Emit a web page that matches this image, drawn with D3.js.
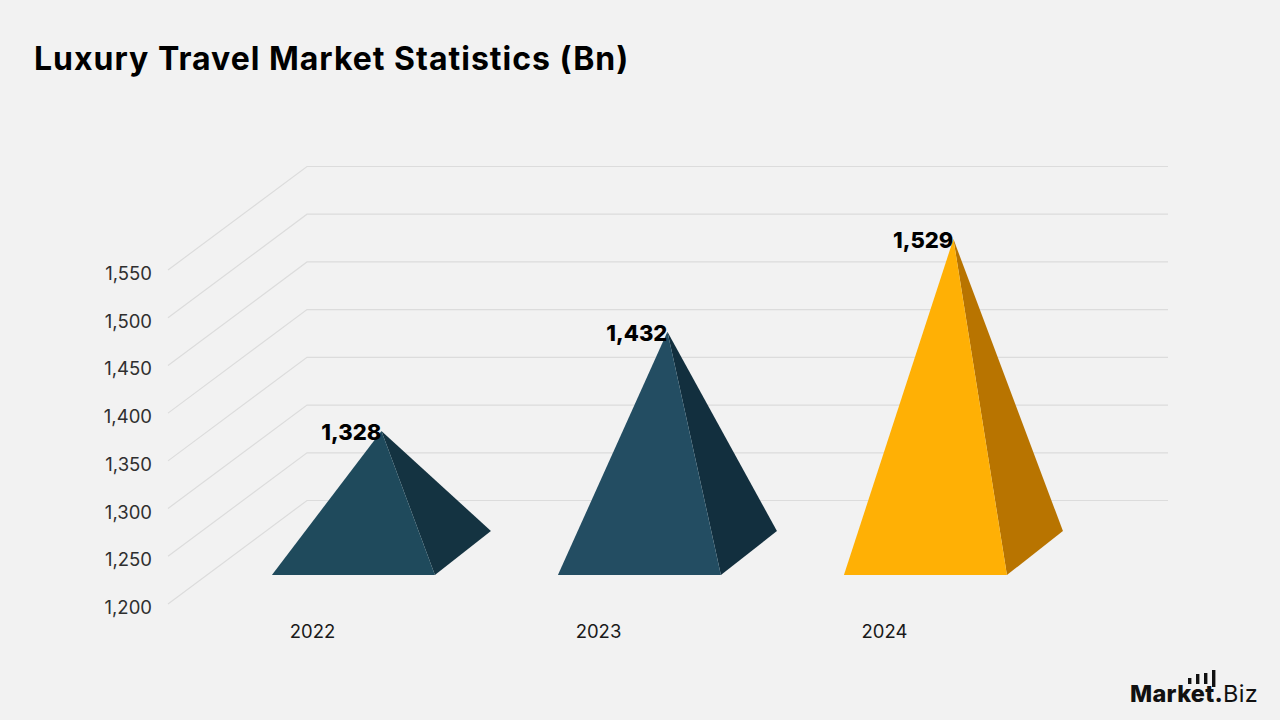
<!DOCTYPE html>
<html>
<head>
<meta charset="utf-8">
<script src="https://cdn.jsdelivr.net/npm/d3@7/dist/d3.min.js"></script>
<style>
  html, body { margin: 0; padding: 0; background: #f2f2f2; }
  svg { display: block; }
  text { font-family: Inter, "Open Sans", sans-serif; }
</style>
</head>
<body>
<svg id="chart" width="1280" height="720"></svg>
<script>
const titleText = "Luxury Travel Market Statistics (Bn)";
const years = ["2022", "2023", "2024"];
const marketValues = [1328, 1432, 1529];
const frontColors = ["#1f4a5c", "#234d62", "#ffb005"];
const sideColors = ["#143341", "#122f3e", "#b87400"];
const tickValues = [1200, 1250, 1300, 1350, 1400, 1450, 1500, 1550];
const logoBars = [6, 10, 11, 17];

const svg = d3.select("#chart");
const fmt = d3.format(",");

// Value axis sits on the front plane; categories are spaced along its width.
const y = d3.scaleLinear().domain([1200, 1550]).range([604, 270]);
const x = d3.scaleBand().domain(years).range([233, 1091]).paddingInner(0).paddingOuter(0);

// Oblique projection: depth 0 is the front plane, depth 1 is the back wall.
const wall = { dx: 139, dy: -103.5 };
const project = (px, py, depth) => [px + wall.dx * depth, py + wall.dy * depth];

// Gridlines: side edge plus back wall
const grid = svg.append("g").attr("fill", "none").attr("stroke", "#dcdcdc").attr("stroke-width", 1.2);
grid.selectAll("path").data(tickValues).join("path")
  .attr("d", v => {
    const a = project(168, y(v), 0), b = project(168, y(v), 1);
    return d3.line()([a, b, [1168, b[1]]]);
  });

// Value axis labels
svg.append("g").selectAll("text").data(tickValues).join("text")
  .attr("x", 152).attr("y", v => y(v) + 5)
  .attr("text-anchor", "end").attr("dominant-baseline", "middle")
  .attr("font-size", 18.5).attr("fill", "#2f2f2f")
  .text(fmt);

// Pyramids: the base recedes along its own edge vector, apex over its centre
const baseWidth = 163, nearDepth = 0.28, midDepth = 0.4925;
const baseEdge = { dx: 56, dy: -44 };
const pyramids = svg.append("g").selectAll("g").data(years).join("g");
pyramids.each(function (yr, i) {
  const g = d3.select(this);
  const left = x(yr);
  const right = left + baseWidth;
  const floor = y(1200);
  const fl = project(left, floor, nearDepth);
  const fr = project(right, floor, nearDepth);
  const br = [fr[0] + baseEdge.dx, fr[1] + baseEdge.dy];
  const apex = [(fl[0] + br[0]) / 2, project(0, y(marketValues[i]), midDepth)[1]];
  g.append("path").attr("d", d3.line()([apex, fr, br]) + "Z").attr("fill", sideColors[i]);
  g.append("path").attr("d", d3.line()([apex, fl, fr]) + "Z").attr("fill", frontColors[i]);
  g.append("text")
    .attr("x", apex[0]).attr("y", apex[1] + 3)
    .attr("text-anchor", "end").attr("dominant-baseline", "middle")
    .attr("font-size", 22).attr("font-weight", 800).attr("fill", "#000")
    .text(fmt(marketValues[i]));
});

// Category labels
svg.append("g").selectAll("text").data(years).join("text")
  .attr("x", d => x(d) + 79.5).attr("y", 632.5)
  .attr("text-anchor", "middle").attr("dominant-baseline", "middle")
  .attr("font-size", 18.5).attr("fill", "#1a1a1a")
  .text(d => d);

// Title
svg.append("text")
  .attr("x", 34).attr("y", 70)
  .attr("font-size", 32).attr("font-weight", 700).attr("fill", "#000")
  .attr("letter-spacing", 1)
  .text(titleText);

// Brand mark in the lower right corner
const logo = svg.append("g");
logo.selectAll("rect").data(logoBars).join("rect")
  .attr("x", (d, i) => 1188 + i * 8).attr("width", 3.4)
  .attr("y", (d, i) => [678, 674, 673, 670][i]).attr("height", d => d)
  .attr("fill", "#111");
const wordmark = logo.append("text").attr("x", 1130).attr("y", 702).attr("font-size", 23.5)
  .attr("letter-spacing", 0.3).attr("fill", "#111");
wordmark.append("tspan").attr("font-weight", 800).text("Market.");
wordmark.append("tspan").attr("font-weight", 400).text("Biz");
</script>
</body>
</html>
